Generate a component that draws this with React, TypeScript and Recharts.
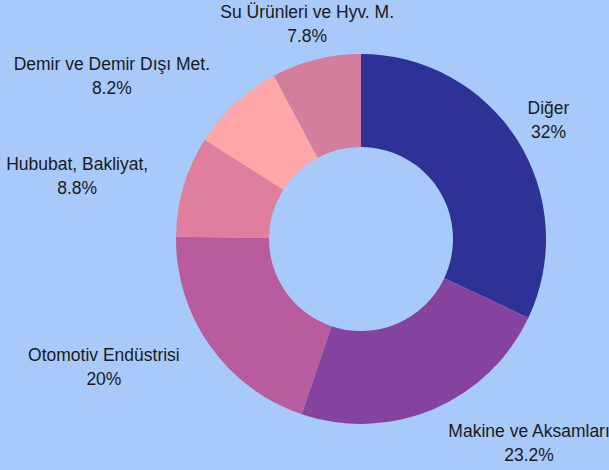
import { PieChart, Pie, Cell } from "recharts";

const categories = [
  "Diğer",
  "Makine ve Aksamları",
  "Otomotiv Endüstrisi",
  "Hububat, Bakliyat,",
  "Demir ve Demir Dışı Met.",
  "Su Ürünleri ve Hyv. M.",
];
const shares = [32, 23.2, 20, 8.8, 8.2, 7.8];
const sliceColors = ["#2e3296", "#85429e", "#b95c9e", "#e07e9e", "#ffa6a8", "#d27e9c"];

const data = categories.map((name, i) => ({ name, value: shares[i] }));

const FONT = "17.5px 'Liberation Sans', Arial, sans-serif";
const BG = "#a7cafa";

let ctx: CanvasRenderingContext2D | null = null;
function textWidth(s: string) {
  if (!ctx) ctx = document.createElement("canvas").getContext("2d");
  if (!ctx) return s.length * 8.5;
  ctx.font = FONT;
  return ctx.measureText(s).width;
}

type Box = { cx: number; cy: number; x0: number; x1: number; y0: number; y1: number };

// place labels on a ring outside the donut, nudging along the ring when two collide
function layoutLabels(cx: number, cy: number, R: number): Box[] {
  const total = shares.reduce((a, b) => a + b, 0);
  let acc = 0;
  const mids = shares.map((v) => {
    const m = ((acc + v / 2) / total) * 360;
    acc += v;
    return m;
  });
  const rr = R + 37;
  const half = 20;
  const boxAt = (i: number, theta: number): Box => {
    const t = (theta * Math.PI) / 180;
    const px = cx + rr * Math.sin(t);
    const py = cy - rr * Math.cos(t);
    const w = Math.max(textWidth(categories[i]), textWidth(`${shares[i]}%`));
    let bx = px;
    const x0 = bx - w / 2;
    const x1 = bx + w / 2;
    const nx = Math.min(Math.max(cx, x0), x1);
    const ny = Math.min(Math.max(cy, py - half), py + half);
    if (Math.hypot(nx - cx, ny - cy) < R + 4) bx = px > cx ? px + w / 2 : px - w / 2;
    return { cx: bx, cy: py, x0: bx - w / 2, x1: bx + w / 2, y0: py - half, y1: py + half };
  };
  const pad = 8;
  const hit = (a: Box, b: Box) =>
    a.x0 < b.x1 + pad && b.x0 < a.x1 + pad && a.y0 < b.y1 + pad && b.y0 < a.y1 + pad;
  const out: Box[] = new Array(shares.length);
  for (let i = shares.length - 1; i >= 0; i--) {
    let theta = mids[i];
    let b = boxAt(i, theta);
    let steps = 0;
    while (out.some((o) => o && hit(o, b)) && steps < 120) {
      theta -= 0.5;
      b = boxAt(i, theta);
      steps++;
    }
    out[i] = b;
  }
  return out;
}

function renderLabel(props: any) {
  const { cx, cy, outerRadius, index } = props;
  const b = layoutLabels(cx, cy, outerRadius)[index];
  return (
    <text
      key={`lbl-${index}`}
      x={b.cx}
      y={b.cy}
      textAnchor="middle"
      fill="#1a1a1a"
      style={{ font: FONT }}
    >
      <tspan x={b.cx} y={b.cy - 12} dominantBaseline="central">
        {categories[index]}
      </tspan>
      <tspan x={b.cx} y={b.cy + 12} dominantBaseline="central">
        {`${shares[index]}%`}
      </tspan>
    </text>
  );
}

export default function App() {
  return (
    <div style={{ width: 609, height: 470, background: BG, overflow: "hidden" }}>
      <style>{`body{margin:0}`}</style>
      <PieChart width={609} height={470} margin={{ top: 0, right: 0, bottom: 0, left: 0 }}>
        <Pie
          data={data}
          dataKey="value"
          nameKey="name"
          cx={361}
          cy={239}
          innerRadius={92}
          outerRadius={185}
          startAngle={90}
          endAngle={-270}
          stroke="none"
          label={renderLabel}
          labelLine={false}
          isAnimationActive={false}
        >
          {data.map((d, i) => (
            <Cell key={d.name} fill={sliceColors[i]} />
          ))}
        </Pie>
      </PieChart>
    </div>
  );
}
